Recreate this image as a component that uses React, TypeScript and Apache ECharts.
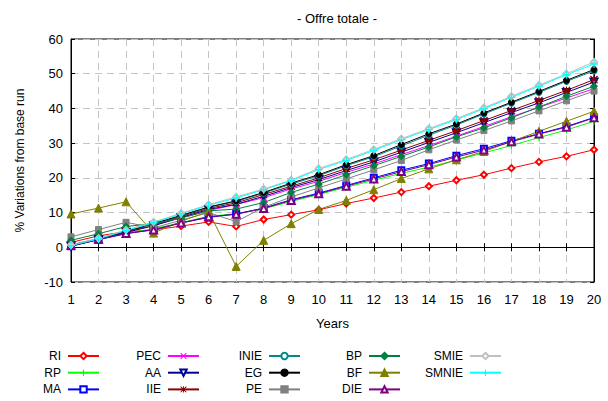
import React, { useEffect, useRef } from "react";
import * as echarts from "echarts";

const years = ["1", "2", "3", "4", "5", "6", "7", "8", "9", "10", "11", "12", "13", "14", "15", "16", "17", "18", "19", "20"];

const RI = [1.4, 3.3, 4.5, 5.0, 6.1, 7.3, 6.0, 8.0, 9.4, 10.8, 12.6, 14.2, 15.9, 17.6, 19.3, 20.9, 22.8, 24.6, 26.2, 28.1];
const RP = [0.4, 2.3, 4.1, 5.3, 7.1, 8.9, 9.7, 11.1, 13.2, 15.2, 17.3, 19.3, 21.3, 23.1, 25.1, 27.2, 29.3, 31.6, 33.8, 36.3];
const MA = [0.3, 2.2, 3.9, 5.1, 7.0, 8.6, 9.6, 11.3, 13.7, 15.6, 17.8, 20.0, 22.2, 24.1, 26.4, 28.4, 30.7, 32.7, 34.8, 37.4];
const PEC = [0.6, 2.3, 4.4, 6.3, 8.5, 10.6, 12.3, 14.3, 16.8, 19.0, 21.6, 24.0, 26.7, 29.3, 32.0, 34.8, 37.6, 40.3, 43.0, 45.7];
const AA = [0.4, 2.2, 4.3, 6.2, 8.6, 10.9, 12.4, 14.7, 17.2, 19.5, 22.1, 24.6, 27.4, 30.2, 33.0, 35.9, 38.8, 41.6, 44.6, 47.6];
const IIE = [0.6, 2.4, 4.5, 6.5, 8.9, 11.2, 12.8, 15.2, 17.6, 20.0, 22.7, 25.2, 28.0, 30.8, 33.6, 36.5, 39.4, 42.3, 45.2, 48.3];
const INIE = [0.7, 2.5, 4.6, 6.8, 9.1, 11.5, 13.2, 15.6, 18.2, 20.6, 23.5, 26.1, 29.2, 32.3, 35.2, 38.4, 41.5, 44.6, 47.8, 50.8];
const EG = [0.6, 2.4, 4.6, 6.8, 9.2, 11.6, 13.4, 15.8, 18.5, 20.9, 23.8, 26.4, 29.6, 32.7, 35.5, 38.7, 41.8, 44.9, 48.1, 51.2];
const PE = [3.0, 5.1, 7.2, 5.6, 7.8, 10.0, 7.4, 11.5, 14.5, 17.1, 19.7, 22.3, 25.0, 28.1, 30.9, 33.6, 36.4, 39.3, 42.2, 45.0];
const BP = [2.0, 3.9, 6.0, 6.8, 8.4, 10.5, 11.0, 12.9, 15.8, 18.2, 20.9, 23.5, 26.2, 28.9, 31.8, 34.4, 37.3, 40.4, 43.5, 46.4];
const BF = [9.6, 11.3, 13.1, 4.1, 7.5, 10.3, -5.5, 2.0, 6.8, 10.9, 13.5, 16.6, 19.8, 22.6, 25.2, 27.6, 30.5, 33.4, 36.3, 39.2];
const DIE = [0.5, 2.3, 4.0, 5.0, 7.0, 8.8, 9.5, 11.2, 13.5, 15.4, 17.6, 19.7, 21.8, 23.8, 26.0, 28.0, 30.4, 32.6, 34.6, 37.3];
const SMIE = [0.7, 2.6, 5.0, 7.3, 9.8, 12.3, 14.5, 16.8, 19.4, 22.7, 25.3, 28.2, 31.3, 34.2, 37.1, 40.2, 43.5, 46.7, 50.0, 53.4];
const SMNIE = [0.5, 2.4, 4.8, 7.1, 9.6, 12.1, 14.2, 16.6, 19.2, 22.4, 25.0, 27.9, 31.0, 33.9, 36.8, 39.9, 43.2, 46.4, 49.7, 52.8];

const PLUS = "path://M4.2,0H5.8V4.2H10V5.8H5.8V10H4.2V5.8H0V4.2H4.2Z";
const CROSS = "path://M0,1.2L1.2,0L10,8.8L8.8,10ZM8.8,0L10,1.2L1.2,10L0,8.8Z";
const STAR = "path://M4.3,0H5.7V4.3H10V5.7H5.7V10H4.3V5.7H0V4.3H4.3ZM0,1.1L1.1,0L10,8.9L8.9,10ZM8.9,0L10,1.1L1.1,10L0,8.9Z";

const defs = [
  { name: "RI", data: RI, color: "#ff0000", symbol: "emptyDiamond", size: 6 },
  { name: "RP", data: RP, color: "#00ff00", symbol: PLUS, size: 7 },
  { name: "MA", data: MA, color: "#0000ff", symbol: "emptyRect", size: 6 },
  { name: "PEC", data: PEC, color: "#ff00ff", symbol: CROSS, size: 7 },
  { name: "AA", data: AA, color: "#000090", symbol: "emptyTriangle", size: 7, rotate: 180 },
  { name: "IIE", data: IIE, color: "#8b0000", symbol: STAR, size: 8 },
  { name: "INIE", data: INIE, color: "#008b8b", symbol: "emptyCircle", size: 5 },
  { name: "EG", data: EG, color: "#000000", symbol: "circle", size: 6 },
  { name: "PE", data: PE, color: "#808080", symbol: "rect", size: 6 },
  { name: "BP", data: BP, color: "#008040", symbol: "diamond", size: 7 },
  { name: "BF", data: BF, color: "#808000", symbol: "triangle", size: 8 },
  { name: "DIE", data: DIE, color: "#800080", symbol: "emptyTriangle", size: 7 },
  { name: "SMIE", data: SMIE, color: "#c0c0c0", symbol: "emptyDiamond", size: 6 },
  { name: "SMNIE", data: SMNIE, color: "#00ffff", symbol: PLUS, size: 8 },
];

const legendCols = [
  { names: ["RI", "RP", "MA"], iconRight: 100 },
  { names: ["PEC", "AA", "IIE"], iconRight: 200 },
  { names: ["INIE", "EG", "PE"], iconRight: 301 },
  { names: ["BP", "BF", "DIE"], iconRight: 401 },
  { names: ["SMIE", "SMNIE"], iconRight: 502 },
];

const FONT = "Liberation Sans, Arial, sans-serif";

export default function App() {
  const ref = useRef<HTMLDivElement>(null);
  useEffect(() => {
    if (!ref.current) return;
    const chart = echarts.init(ref.current, null, { renderer: "svg" });
    const W = 608;
    chart.setOption({
      animation: false,
      backgroundColor: "#ffffff",
      textStyle: { fontFamily: FONT },
      title: {
        text: "- Offre totale -",
        left: 332,
        textAlign: "center",
        top: 7,
        textStyle: { fontSize: 13, fontWeight: "normal", color: "#000", fontFamily: FONT },
      },
      grid: {
        left: 71,
        right: 14,
        top: 39,
        bottom: 119,
        show: true,
        borderColor: "#000",
        borderWidth: 1,
        backgroundColor: "transparent",
      },
      legend: legendCols.map((c) => ({
        data: c.names,
        orient: "vertical",
        align: "right",
        right: W - c.iconRight,
        top: 348,
        padding: 0,
        itemWidth: 31,
        itemHeight: 8,
        itemGap: 0.7,
        selectedMode: false,
        lineStyle: { width: 2 },
        textStyle: { fontSize: 12, lineHeight: 16, color: "#000", fontFamily: FONT, padding: [0, 2, 0, 0] },
      })),
      xAxis: [
        {
          type: "category",
          data: years,
          boundaryGap: false,
          name: "Years",
          nameLocation: "middle",
          nameGap: 35,
          nameTextStyle: { fontSize: 13, color: "#000", fontFamily: FONT },
          axisLine: { show: true, lineStyle: { color: "#000" } },
          axisTick: { show: true, inside: true, length: 4, lineStyle: { color: "#000" } },
          axisLabel: { fontSize: 13, color: "#000", margin: 11, fontFamily: FONT, interval: 0 },
          splitLine: { show: true, lineStyle: { color: "#c4c4c4", type: [7, 5], width: 1 } },
        },
        {
          type: "category",
          data: years,
          boundaryGap: false,
          position: "top",
          axisLine: { show: true, lineStyle: { color: "#000" } },
          axisTick: { show: true, inside: true, length: 4, lineStyle: { color: "#000" } },
          axisLabel: { show: false },
          splitLine: { show: false },
        },
      ],
      yAxis: [
        {
          type: "value",
          min: -10,
          max: 60,
          interval: 10,
          name: "% Variations from base run",
          nameLocation: "middle",
          nameGap: 45,
          nameTextStyle: { fontSize: 12, color: "#000", fontFamily: FONT },
          axisLine: { show: true, lineStyle: { color: "#000" } },
          axisTick: { show: true, inside: true, length: 4, lineStyle: { color: "#000" } },
          axisLabel: { fontSize: 13, color: "#000", margin: 8, fontFamily: FONT },
          splitLine: { show: true, lineStyle: { color: "#c4c4c4", type: [7, 5], width: 1 } },
        },
        {
          type: "value",
          min: -10,
          max: 60,
          interval: 10,
          position: "right",
          axisLine: { show: true, lineStyle: { color: "#000" } },
          axisTick: { show: true, inside: true, length: 4, lineStyle: { color: "#000" } },
          axisLabel: { show: false },
          splitLine: { show: false },
        },
      ],
      series: defs.map((d) => {
        const isPath = d.symbol.indexOf("path://") === 0;
        return {
          name: d.name,
          type: "line",
          data: d.data,
          xAxisIndex: 0,
          yAxisIndex: 0,
          symbol: d.symbol,
          symbolSize: d.size,
          symbolRotate: (d as any).rotate || 0,
          showAllSymbol: true,
          color: d.color,
          lineStyle: { color: d.color, width: 1 },
          itemStyle: { color: d.color, borderColor: d.color, borderWidth: isPath ? 0 : 1 },
          emphasis: { disabled: true },
        };
      }),
    });
    return () => chart.dispose();
  }, []);
  return <div ref={ref} style={{ width: 608, height: 401, position: "absolute", left: 0, top: 0 }} />;
}
